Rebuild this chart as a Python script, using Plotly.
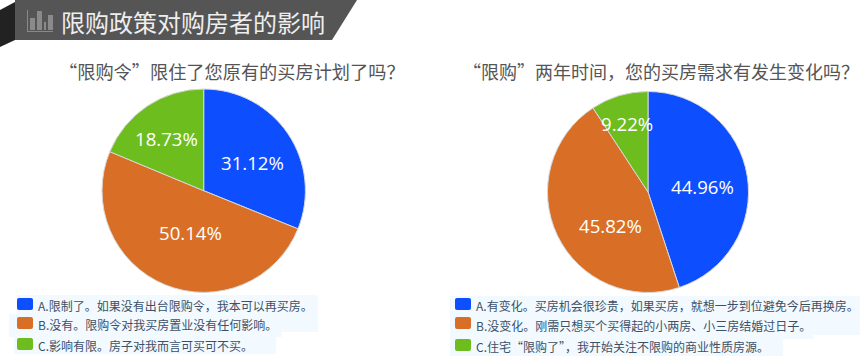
import plotly.graph_objects as go

W, H = 860, 362
CATS = ["A", "B", "C"]
VALS_L = [31.12, 50.14, 18.73]
VALS_R = [44.96, 45.82, 9.22]
COLORS = ["#0d4eff", "#d96f27", "#6dbd1f"]
HEAD = "限购政策对购房者的影响"
TITLE_L = "“限购令”限住了您原有的买房计划了吗？"
TITLE_R = "“限购”两年时间，您的买房需求有发生变化吗？"
LEG_L = ["A.限制了。如果没有出台限购令，我本可以再买房。",
         "B.没有。限购令对我买房置业没有任何影响。",
         "C.影响有限。房子对我而言可买可不买。"]
LEG_R = ["A.有变化。买房机会很珍贵，如果买房，就想一步到位避免今后再换房。",
         "B.没变化。刚需只想买个买得起的小两房、小三房结婚过日子。",
         "C.住宅“限购了”，我开始关注不限购的商业性质房源。"]
CJK = "Noto Sans CJK SC"


def dom(cx, cy, r):
    return dict(x=[(cx - r) / W, (cx + r) / W], y=[1 - (cy + r) / H, 1 - (cy - r) / H])


def pie(vals, d):
    return go.Pie(labels=CATS, values=vals, domain=d, sort=False, direction="clockwise", rotation=0,
                  marker=dict(colors=COLORS, line=dict(color="#d8d8d8", width=1)),
                  textinfo="none", showlegend=False, hoverinfo="skip")


fig = go.Figure([pie(VALS_L, dom(203.7, 190.7, 101.7)), pie(VALS_R, dom(648, 192, 100.5))])

shapes = []


def rect(x0, y0, x1, y1, c):
    shapes.append(dict(type="rect", xref="x", yref="y", x0=x0, y0=y0, x1=x1, y1=y1, fillcolor=c, line_width=0, layer="below"))


def poly(pts, c):
    p = "M" + " L".join(f"{x},{y}" for x, y in pts) + " Z"
    shapes.append(dict(type="path", xref="x", yref="y", path=p, fillcolor=c, line_width=0, layer="below"))


def swatch(x, y, c, w=16, h=12, r=2):
    p = (f"M{x+r},{y} L{x+w-r},{y} Q{x+w},{y} {x+w},{y+r} L{x+w},{y+h-r} Q{x+w},{y+h} {x+w-r},{y+h} "
         f"L{x+r},{y+h} Q{x},{y+h} {x},{y+h-r} L{x},{y+r} Q{x},{y} {x+r},{y} Z")
    shapes.append(dict(type="path", xref="x", yref="y", path=p, fillcolor=c, line_width=0))


poly([(15, 0), (357, 0), (332, 40), (15, 40)], "#555555")
poly([(0, 10), (15, 2), (15, 40), (0, 47)], "#222222")
# header icon
rect(27, 10, 28, 32, "#8a8a8a")
rect(27, 31, 53, 32, "#8a8a8a")
rect(30, 18, 35, 30, "#8a8a8a")
rect(37, 11, 42, 30, "#8a8a8a")
rect(44, 22, 46, 30, "#8a8a8a")
rect(48, 15, 53, 30, "#8a8a8a")

BG = "#f2faff"
rect(17, 295, 318, 314, BG)
rect(9, 314, 318, 332, BG)
rect(9, 332, 282, 337, BG)
rect(14, 337, 276, 354, BG)
rect(450, 296, 860, 335, BG)
rect(450, 335, 813, 339, BG)
rect(450, 339, 783, 356, BG)
for y, c in zip([298, 317, 338], COLORS):
    swatch(17, y, c)
for y, c in zip([298, 317, 339], COLORS):
    swatch(455, y, c)

ann = []


def text(x, y, s, size, color, family=CJK, anchor="left"):
    ann.append(dict(xref="paper", yref="paper", x=x / W, y=1 - y / H, text=s, showarrow=False,
                    xanchor=anchor, yanchor="middle", font=dict(family=family, size=size, color=color),
                    borderpad=0, borderwidth=0))


text(61, 21, HEAD, 24, "#eeeeee")
text(59, 71, TITLE_L, 18.2, "#555555")
text(463, 71, TITLE_R, 18, "#555555")
for y, s in zip([305, 324, 345], LEG_L):
    text(38, y, s, 12, "#3c5068")
for y, s in zip([305, 325, 346], LEG_R):
    text(476, y, s, 12, "#3c5068")

for v, (x, y) in zip(VALS_L + VALS_R, [(252.5, 162), (190, 232), (166, 138), (702, 187), (610, 226), (627, 123)]):
    text(x, y, f"{v:.2f}%", 18.6, "white", "Open Sans", "center")

fig.update_layout(width=W, height=H, margin=dict(l=0, r=0, t=0, b=0), paper_bgcolor="white", plot_bgcolor="rgba(0,0,0,0)",
                  xaxis=dict(range=[0, W], visible=False, fixedrange=True),
                  yaxis=dict(range=[H, 0], visible=False, fixedrange=True),
                  shapes=shapes, annotations=ann)
fig.write_html("out.html", post_script="document.body.style.margin='0';", config={"displayModeBar": False})
